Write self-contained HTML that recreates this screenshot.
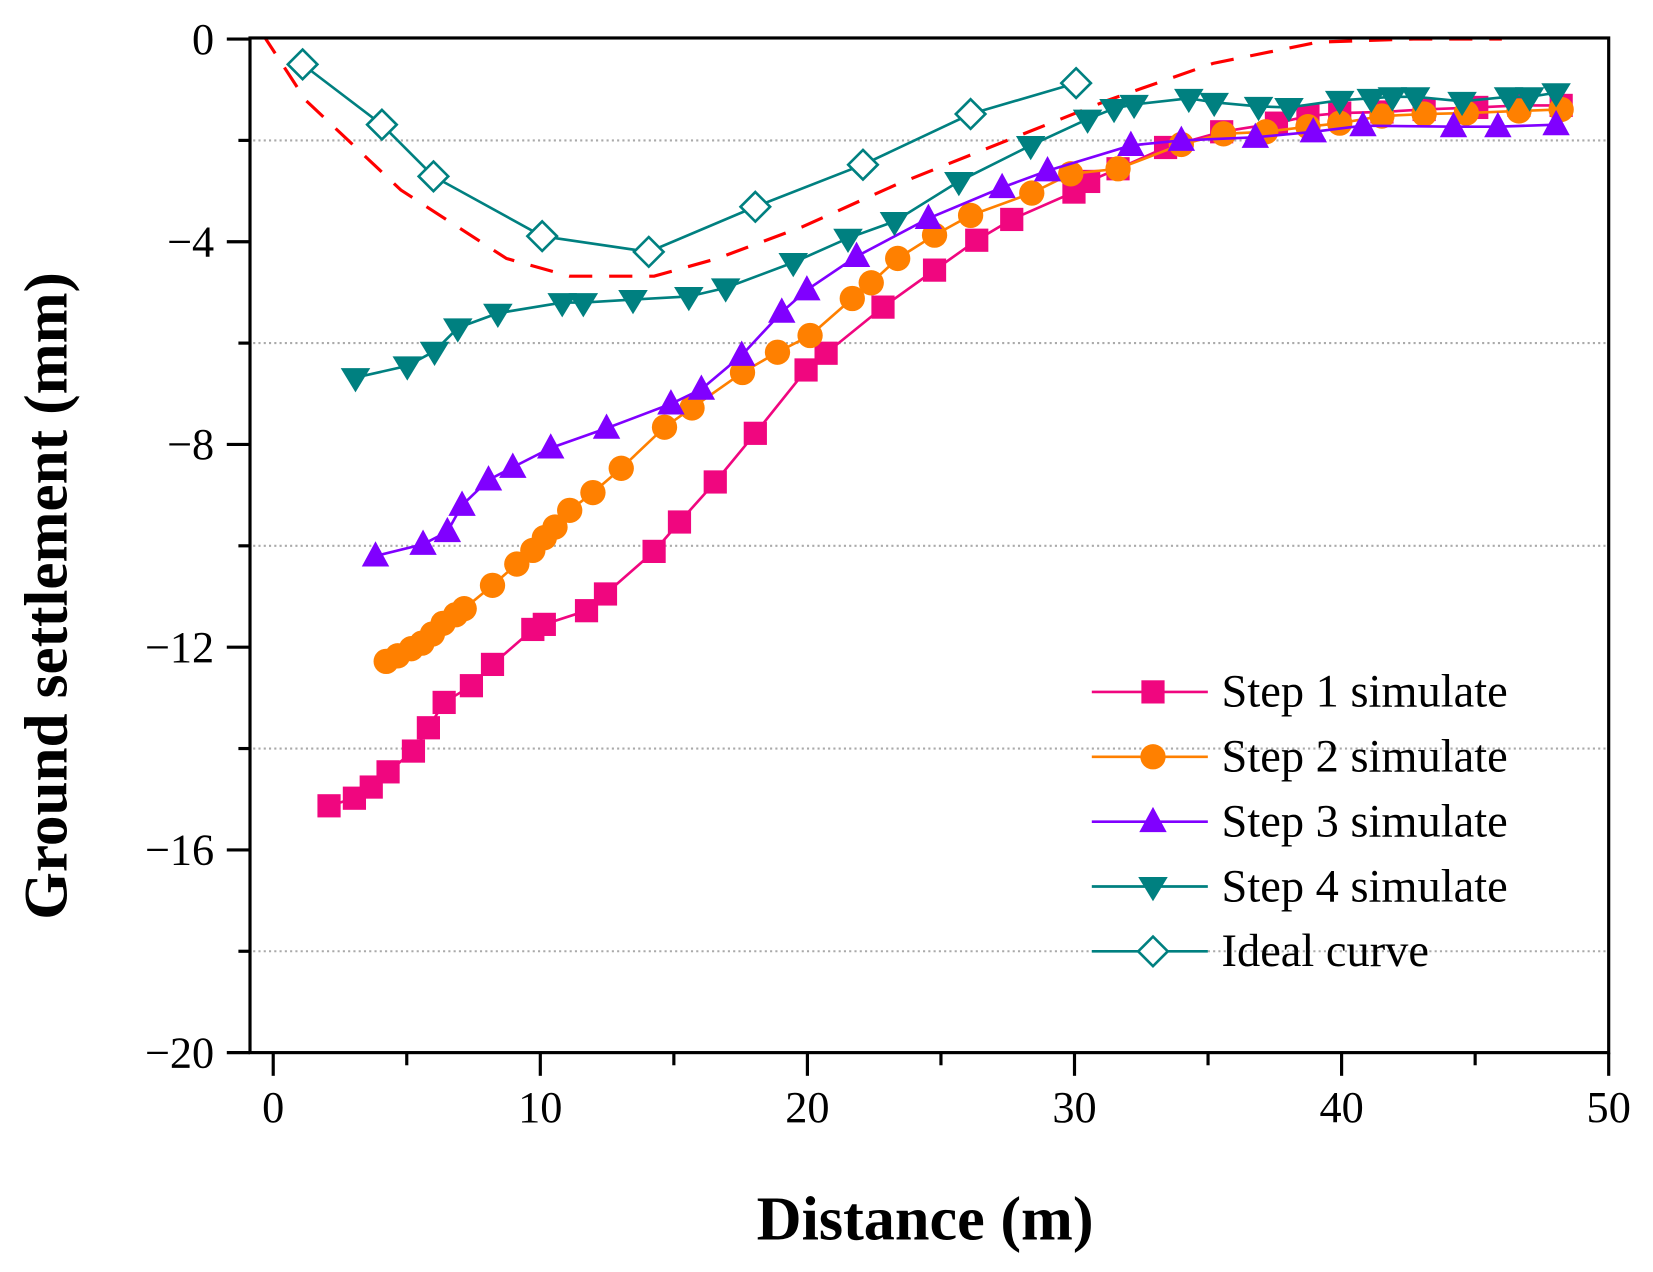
<!DOCTYPE html>
<html><head><meta charset="utf-8"><style>
html,body{margin:0;padding:0;background:#fff;}
svg{display:block;}
</style></head><body>
<svg id="chart" width="1653" height="1272" viewBox="0 0 1567 1206" preserveAspectRatio="none" xmlns="http://www.w3.org/2000/svg" font-family="'Liberation Serif', serif">
<defs><clipPath id="clip"><rect x="237" y="36" width="1288" height="962"/></clipPath></defs>
<g id="grid"></g>
<g id="series" clip-path="url(#clip)"></g>
<g id="axes"></g>
<g id="legend"></g>
<text x="0" y="0" transform="translate(63,565) rotate(-90)" text-anchor="middle" font-size="58" font-weight="bold">Ground settlement (mm)</text>
<text x="877" y="1175" text-anchor="middle" font-size="59" font-weight="bold">Distance (m)</text>
</svg>
<script>
const xTicks=[0,10,20,30,40,50];
const yTicks=[0,-4,-8,-12,-16,-20];
const gridVals=[-2,-6,-10,-14,-18];
const s1x=[2.09,3.04,3.67,4.30,5.25,5.81,6.40,7.42,8.21,9.72,10.15,11.73,12.44,14.26,15.21,16.55,18.05,19.95,20.70,22.83,24.76,26.34,27.65,29.98,30.53,31.63,33.41,35.51,37.56,38.74,39.93,41.51,43.09,45.06,46.64,48.22];
const s1y=[-15.13,-14.98,-14.76,-14.46,-14.05,-13.59,-13.09,-12.76,-12.34,-11.65,-11.55,-11.28,-10.95,-10.11,-9.53,-8.74,-7.78,-6.53,-6.20,-5.29,-4.56,-3.97,-3.56,-3.02,-2.81,-2.56,-2.14,-1.83,-1.66,-1.52,-1.46,-1.44,-1.39,-1.35,-1.31,-1.31];
const s2x=[4.23,4.66,5.17,5.57,5.96,6.36,6.83,7.15,8.21,9.12,9.72,10.15,10.55,11.10,11.97,13.03,14.65,15.68,17.57,18.88,20.10,21.68,22.39,23.38,24.76,26.11,28.40,29.86,31.63,34.0,35.58,37.16,38.74,39.93,41.51,43.09,44.67,46.64,48.22];
const s2y=[-12.28,-12.17,-12.03,-11.92,-11.74,-11.53,-11.36,-11.24,-10.78,-10.36,-10.09,-9.84,-9.63,-9.30,-8.95,-8.47,-7.66,-7.28,-6.58,-6.18,-5.85,-5.12,-4.81,-4.33,-3.87,-3.48,-3.04,-2.66,-2.56,-2.08,-1.87,-1.83,-1.73,-1.66,-1.52,-1.48,-1.46,-1.42,-1.39];
const s3x=[3.83,5.61,6.52,7.07,8.06,8.97,10.39,12.48,14.89,16.03,17.54,19.04,19.98,21.84,24.53,27.29,28.99,32.11,34.0,36.77,38.94,40.80,44.19,45.85,48.03];
const s3y=[-10.20,-9.97,-9.72,-9.20,-8.70,-8.45,-8.07,-7.68,-7.20,-6.91,-6.24,-5.39,-4.95,-4.29,-3.54,-2.93,-2.60,-2.10,-2.00,-1.94,-1.83,-1.71,-1.73,-1.73,-1.69];
const s4x=[3.08,5.02,6.04,6.91,8.41,10.82,11.61,13.47,15.56,16.94,19.47,21.52,23.26,25.67,28.36,30.49,31.48,32.23,34.28,35.23,36.89,38.03,39.93,41.11,41.90,42.77,44.51,46.25,47.04,48.03];
const s4y=[-6.68,-6.45,-6.16,-5.70,-5.41,-5.20,-5.20,-5.14,-5.08,-4.91,-4.41,-3.93,-3.60,-2.81,-2.10,-1.58,-1.37,-1.29,-1.17,-1.25,-1.33,-1.35,-1.21,-1.17,-1.14,-1.14,-1.23,-1.14,-1.14,-1.06];
const idx=[1.1,4.07,6.0,10.07,14.06,18.05,22.08,26.11,30.06];
const idy=[-0.5,-1.69,-2.71,-3.89,-4.2,-3.31,-2.48,-1.48,-0.87];
const rdx=[-0.4,1.22,4.78,8.73,11.1,14.26,16.63,19.79,23.34,27.29,31.24,35.19,39.14,42.69,46];
const rdy=[0.1,-1.21,-2.98,-4.33,-4.68,-4.68,-4.33,-3.71,-2.87,-2.04,-1.21,-0.48,-0.06,0.0,0.0];
const legendLabels=["Step 1 simulate","Step 2 simulate","Step 3 simulate","Step 4 simulate","Ideal curve"];

const NS="http://www.w3.org/2000/svg";
const X=v=>259+(v-0)*(1525-259)/50;
const Y=v=>37+(0-v)*(998-37)/20;
function mk(tag,attrs,parent){const e=document.createElementNS(NS,tag);for(const k in attrs)e.setAttribute(k,attrs[k]);parent.appendChild(e);return e;}
const grid=document.getElementById('grid'),axes=document.getElementById('axes'),ser=document.getElementById('series'),leg=document.getElementById('legend');

gridVals.forEach(v=>{const l=mk('line',{x1:240,x2:1522,y1:Y(v),y2:Y(v),stroke:'#aaa','stroke-width':2,'stroke-dasharray':'2,3'},grid);

});

const frame=mk('rect',{x:237,y:36,width:1288,height:962,fill:'none',stroke:'#000','stroke-width':3},axes);


xTicks.forEach(v=>{mk('line',{x1:X(v),x2:X(v),y1:998,y2:1020,stroke:'#000','stroke-width':3},axes);
const t=mk('text',{x:X(v),y:1064,'text-anchor':'middle','font-size':42},axes);t.textContent=v;

});
xTicks.slice(0,-1).forEach(v=>{mk('line',{x1:X(v+5),x2:X(v+5),y1:998,y2:1010,stroke:'#000','stroke-width':3},axes);});
yTicks.forEach(v=>{mk('line',{x1:215,x2:237,y1:Y(v),y2:Y(v),stroke:'#000','stroke-width':3},axes);
const t=mk('text',{x:203,y:Y(v)+14,'text-anchor':'end','font-size':42},axes);t.textContent=v===0?'0':'\u2212'+Math.abs(v);

});
gridVals.forEach(v=>{mk('line',{x1:226,x2:237,y1:Y(v),y2:Y(v),stroke:'#000','stroke-width':3},axes);});

function marker(type,cx,cy,color,parent){
  let e;
  if(type==='square')e=mk('rect',{x:cx-11,y:cy-11,width:22,height:22,fill:color},parent);
  else if(type==='circle')e=mk('circle',{cx:cx,cy:cy,r:12,fill:color},parent);
  else if(type==='up')e=mk('polygon',{points:`${cx},${cy-14} ${cx-13},${cy+10} ${cx+13},${cy+10}`,fill:color},parent);
  else if(type==='down')e=mk('polygon',{points:`${cx-14},${cy-9} ${cx+14},${cy-9} ${cx},${cy+14}`,fill:color},parent);
  else e=mk('polygon',{points:`${cx},${cy-14} ${cx+14},${cy} ${cx},${cy+14} ${cx-14},${cy}`,fill:'#fff',stroke:color,'stroke-width':2.5},parent);
  return e;
}
const rp=mk('polyline',{points:rdx.map((x,i)=>X(x)+','+Y(rdy[i])).join(' '),fill:'none',stroke:'#f00','stroke-width':3,'stroke-dasharray':'22,16'},ser);


const defs=[[s1x,s1y,'#f0067f','square','step-1'],[s2x,s2y,'#ff8000','circle','step-2'],[s3x,s3y,'#8000ff','up','step-3'],[s4x,s4y,'#008080','down','step-4'],[idx,idy,'#008080','diamond','ideal-curve']];
defs.forEach(([xs,ys,c,m,n])=>{
  const g=mk('g',{},ser);
  
  
  mk('polyline',{points:xs.map((x,i)=>X(x)+','+Y(ys[i])).join(' '),fill:'none',stroke:c,'stroke-width':2.5},g);
  xs.forEach((x,i)=>{const p=marker(m,X(x),Y(ys[i]),c,g);
  
  });
});
defs.forEach(([xs,ys,c,m,n],i)=>{
  const y=656+i*61.5;
  const g=mk('g',{},leg);
  
  
  mk('line',{x1:1035,x2:1145,y1:y,y2:y,stroke:c,'stroke-width':2.5},g);
  marker(m,1093,y,c,g);
  const t=mk('text',{x:1158,y:y+14,'font-size':44},g);t.textContent=legendLabels[i];
});
</script>
</body></html>
